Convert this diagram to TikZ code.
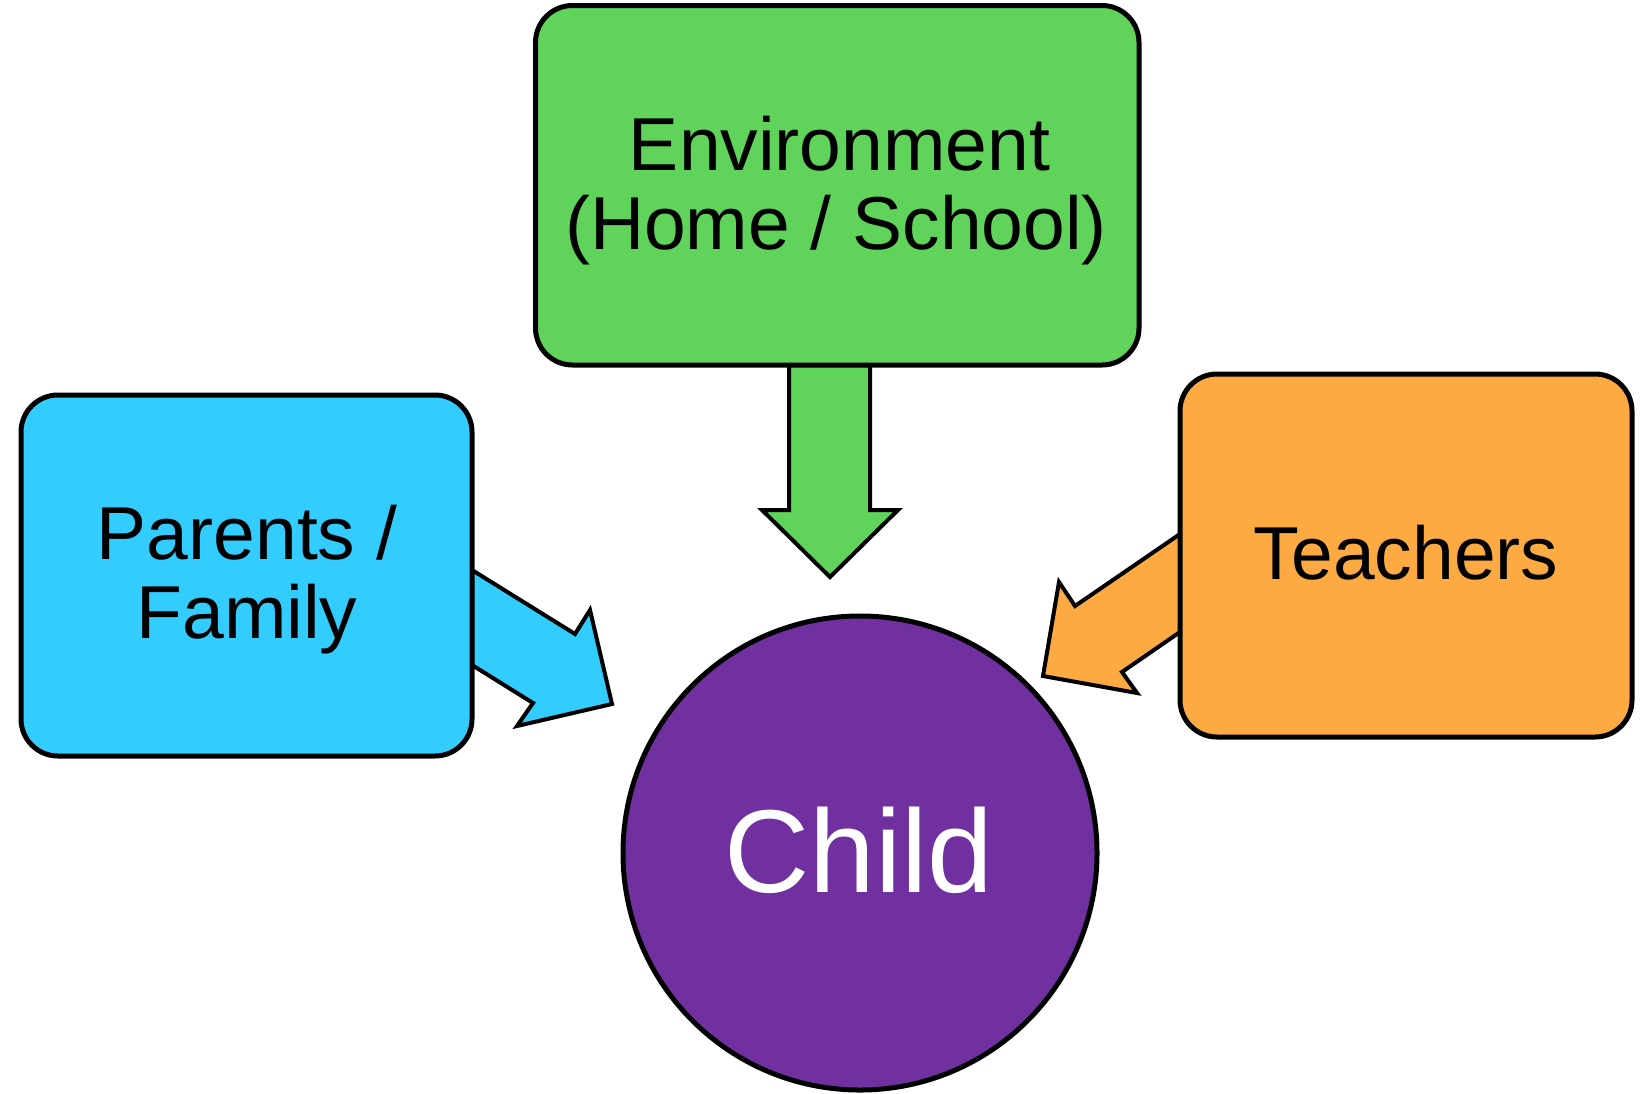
\documentclass[tikz,border=0pt]{standalone}
\usepackage{fontspec}
\setmainfont{Liberation Sans}
\definecolor{envgreen}{RGB}{95,211,90}
\definecolor{famblue}{RGB}{51,204,255}
\definecolor{teachorange}{RGB}{253,170,66}
\definecolor{childpurple}{RGB}{112,48,160}
\begin{document}
\begin{tikzpicture}[x=0.5pt,y=-0.5pt,
  box/.style={draw=black, line width=2.5pt, rounded corners=18.5pt, inner sep=0pt, outer sep=0pt},
  fatarrow/.style={draw=black, line width=2pt, line join=miter, miter limit=10},
  lbl/.style={anchor=base, inner sep=0pt, outer sep=0pt, font=\fontsize{37.5}{41}\selectfont}]
\useasboundingbox (0,0) rectangle (1648,1093);

% fat arrows (drawn first, boxes cover their roots)
\draw[fatarrow, fill=envgreen] (789,365) -- (789,510) -- (762,510) -- (830,577) -- (898,510) -- (870,510) -- (870,365) -- cycle;
\draw[fatarrow, fill=famblue] (472,570) -- (575,634) -- (590,610) -- (612,704) -- (517,726) -- (533,703) -- (472,665) -- cycle;
\draw[fatarrow, fill=teachorange] (1180,534) -- (1075,606) -- (1059,582) -- (1043,676) -- (1137,693) -- (1122,672) -- (1180,632) -- cycle;

% boxes
\node[box, fill=envgreen, minimum width=301.75pt, minimum height=179.75pt] (env) at (837.25,185.25) {};
\node[box, fill=famblue, minimum width=225.5pt, minimum height=180.5pt] (fam) at (246.5,575.5) {};
\node[box, fill=teachorange, minimum width=226pt, minimum height=181.5pt] (teach) at (1406,555.5) {};
\node[circle, draw=black, line width=2.5pt, fill=childpurple, minimum size=237pt, inner sep=0pt, outer sep=0pt] (child) at (860,853) {};

% labels
\node[lbl] (envA) at (839.5,170) {Environment};
\node[lbl] (envB) at (836,249) {(Home / School)};
\node[lbl] (famA) at (247,559) {Parents /};
\node[lbl] (famB) at (247,638) {Family};
\node[lbl] (teachA) at (1406,579) {Teachers};
\node[lbl, text=white, font=\fontsize{59}{64}\selectfont] (childA) at (859,892) {Child};
\end{tikzpicture}
\end{document}
